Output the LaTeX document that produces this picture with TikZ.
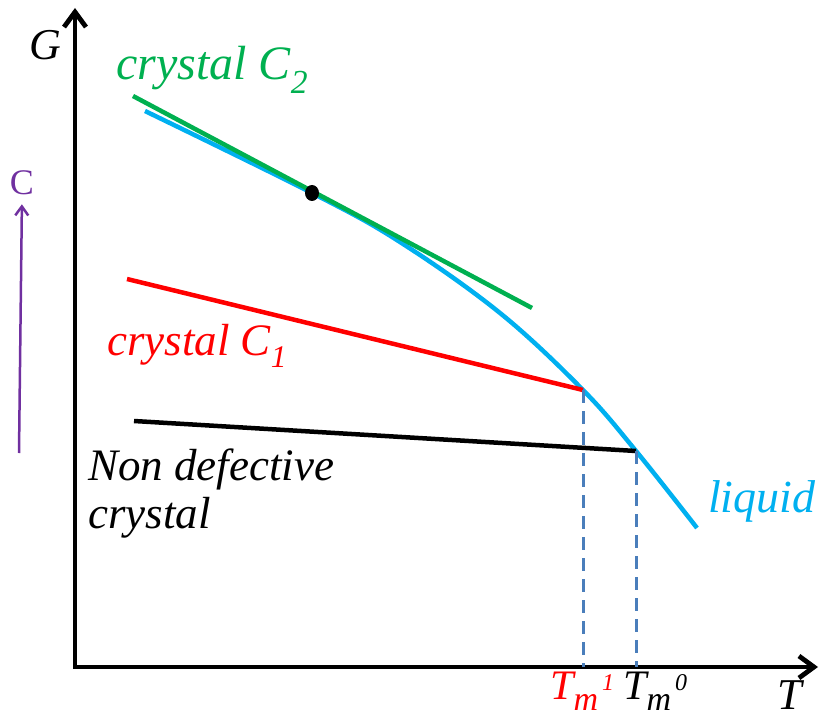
\documentclass[tikz,border=0pt]{standalone}
\usepackage{fontspec}
\setmainfont{Liberation Serif}
\usepackage{tikz}
\usetikzlibrary{arrows.meta}
\definecolor{cgreen}{HTML}{00B050}
\definecolor{cblue}{HTML}{00B0F0}
\definecolor{cpurple}{HTML}{7030A0}
\definecolor{cdash}{HTML}{4A7EBB}
\newcommand{\lowm}{\raisebox{-11pt}{\fontsize{34}{34}\selectfont m}}
\newcommand{\highsup}[1]{\raisebox{9pt}{\fontsize{24}{24}\selectfont\,#1}}
\begin{document}
\begin{tikzpicture}[
  x=1pt, y=-1pt,
  every node/.style={inner sep=0pt},
  txt/.style={font=\fontsize{#1}{#1}\selectfont\itshape},
  axis/.style={line width=4.8pt, {Straight Barb[length=15pt, width=22pt]}-{Straight Barb[length=15pt, width=22pt]}},
  phase/.style={line width=4.5pt, draw=#1},
  drop/.style={line width=3pt, draw=cdash, dash pattern=on 13pt off 8pt},
]
\useasboundingbox (0,0) rectangle (821,719);

% axes
\coordinate (O) at (75,667);
\coordinate (Gtip) at (75,8);
\coordinate (Ttip) at (818,667);
\draw[axis] (Gtip) -- (O) -- (Ttip);
\node[txt=44] (G) at (45,45) {G};
\node[txt=44, anchor=base west] (T) at (777,709) {T};

% defect concentration arrow
\node[font=\fontsize{36}{36}\selectfont, text=cpurple] (C) at (22,183) {C};
\coordinate (Cbot) at (19,453);
\draw[line width=2.5pt, cpurple, -{Straight Barb[length=9pt, width=13pt]}, shorten >=9pt] (Cbot) -- (C.south);

% key points
\coordinate (P) at (312,193);
\coordinate (M1) at (583,390);
\coordinate (M0) at (636,451);
\coordinate (F1) at (583,667);
\coordinate (F0) at (636,667);

% liquid
\draw[phase=cblue] plot[smooth, tension=0.6] coordinates {(145,111) (P) (400,242) (500,313) (M1) (M0) (697,528)};
\node[txt=46, text=cblue, anchor=base west] (liq) at (708,512) {liquid};

% crystal C2, tangent to the liquid
\coordinate (C2a) at (133,96);
\coordinate (C2b) at (532,308);
\draw[phase=cgreen] (C2a) -- (C2b);
\fill (P) ellipse [x radius=7, y radius=8];
\node[txt=48, text=cgreen, anchor=base west] (lc2) at (116,80) {crystal C\textsubscript{2}};

% crystal C1
\coordinate (C1a) at (127,279);
\draw[phase=red] (C1a) -- (M1);
\node[txt=45, text=red, anchor=base west] (lc1) at (107,355) {crystal C\textsubscript{1}};

% non defective crystal
\coordinate (C0a) at (134,421);
\draw[phase=black] (C0a) -- (M0);
\node[txt=45, anchor=base west] (nd1) at (88,480) {Non defective};
\node[txt=45, anchor=base west] (nd2) at (88,528) {crystal};

% melting temperatures
\draw[drop] (M1) -- (F1);
\draw[drop] (M0) -- (F0);
\node[txt=42, text=red, anchor=base west] (tm1) at (550,699) {T\lowm\highsup{1}};
\node[txt=42, anchor=base west] (tm0) at (623,699) {T\lowm\highsup{0}};
\end{tikzpicture}
\end{document}
